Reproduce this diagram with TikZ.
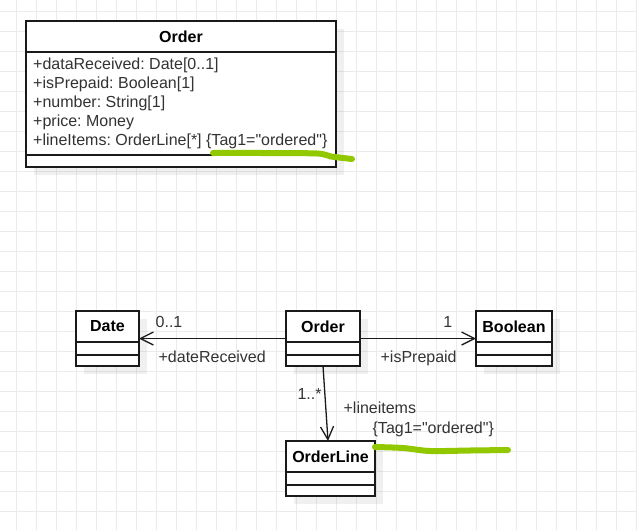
\documentclass[tikz,border=0pt]{standalone}
\usepackage{fontspec}
\setmainfont{Liberation Sans}[Ligatures=TeXOff]
\usepackage{xcolor}
\definecolor{UMLline}{HTML}{1A1A1A}
\definecolor{UMLtext}{HTML}{333333}
\definecolor{UMLgrid}{HTML}{EBEBEB}
\definecolor{UMLmark}{HTML}{92C800}
\usetikzlibrary{arrows.meta, positioning, fit, shadows}
\frenchspacing

\begin{document}
\begin{tikzpicture}[
  x=1pt, y=-1pt,
  gridline/.style={draw=UMLgrid, line width=0.9pt},
  classhead/.style={
    draw=UMLline, line width=1.3pt, fill=white, anchor=north west,
    minimum height=31pt, inner sep=0pt, outer sep=0pt,
    font=\fontsize{16}{19}\selectfont\bfseries,
    drop shadow={shadow xshift=8pt, shadow yshift=-8pt, fill=black, opacity=.06}
  },
  compart/.style={classhead, anchor=north, minimum height=#1},
  classbox/.style={inner sep=0pt, outer sep=0pt},
  attrtext/.style={anchor=base west, inner sep=0pt, text=UMLtext,
    font=\fontsize{16}{19}\selectfont},
  label/.style={attrtext},
  assoc/.style={draw=UMLline, line width=1.3pt,
    -{Straight Barb[length=13pt, width=13pt]}},
  hilite/.style={draw=UMLmark, line width=6pt, line cap=round, line join=round},
]

\useasboundingbox (0,0) rectangle (637,530);

% Background grid
\foreach \gx in {16,36,...,636} \draw[gridline] (\gx,0) -- (\gx,530);
\foreach \gy in {11.5,31.5,...,511.5} \draw[gridline] (0,\gy) -- (637,\gy);

% Class with attributes
\node[classhead, minimum width=310pt] (order-def) at (26,21) {Order};
\node[compart=103pt, minimum width=310pt, below=0pt of order-def] (order-def-attr) {};
\node[compart=12pt, minimum width=310pt, below=0pt of order-def-attr] (order-def-ops) {};
\foreach \attr [count=\i] in {+dataReceived: Date[0..1], +isPrepaid: Boolean[1],
    +number: String[1], +price: Money,
    +lineItems: OrderLine[*] \{Tag1="ordered"\}}
  \node[attrtext] (attr-\i) at (33, 50.8+19*\i) {\attr};

% Highlight
\draw[hilite] plot[smooth] coordinates {(213,153) (262,153) (317,153.5) (331,156.5) (352,159)};

% Class diagram -- Date
\node[classhead, minimum width=63pt] (date) at (76,311) {Date};
\node[compart=13pt, minimum width=63pt, below=0pt of date] (date-attr) {};
\node[compart=11pt, minimum width=63pt, below=0pt of date-attr] (date-ops) {};
\node[classbox, fit=(date)(date-ops)] (date-box) {};

% Order
\node[classhead, minimum width=74pt] (order) at (286,311) {Order};
\node[compart=13pt, minimum width=74pt, below=0pt of order] (order-attr) {};
\node[compart=11pt, minimum width=74pt, below=0pt of order-attr] (order-ops) {};
\node[classbox, fit=(order)(order-ops)] (order-box) {};

% Boolean
\node[classhead, minimum width=76pt] (bool) at (476,311) {Boolean};
\node[compart=13pt, minimum width=76pt, below=0pt of bool] (bool-attr) {};
\node[compart=11pt, minimum width=76pt, below=0pt of bool-attr] (bool-ops) {};
\node[classbox, fit=(bool)(bool-ops)] (bool-box) {};

% OrderLine
\node[classhead, minimum width=89pt] (oline) at (286,441) {OrderLine};
\node[compart=13pt, minimum width=89pt, below=0pt of oline] (oline-attr) {};
\node[compart=11pt, minimum width=89pt, below=0pt of oline-attr] (oline-ops) {};
\node[classbox, fit=(oline)(oline-ops)] (oline-box) {};

% Associations
\draw[assoc] (order-box.west) --
  node[label, pos=.891, yshift=10.8pt] (mult-date) {0..1}
  node[label, pos=.871, yshift=-24pt] (role-date) {+dateReceived}
  (date-box.east);
\draw[assoc] (order-box.east) --
  node[label, anchor=base east, pos=.802, yshift=10.8pt] (mult-bool) {1}
  node[label, pos=.172, yshift=-24pt] (role-bool) {+isPrepaid}
  (bool-box.west);
\draw[assoc] (order-box.south) --
  node[label, anchor=base east, pos=.444, xshift=-3pt] (mult-oline) {1..*}
  node[label, pos=.63, xshift=16.8pt] (role-oline) {+lineitems}
  node[label, pos=.9, xshift=44.5pt] (tag-oline) {\{Tag1="ordered"\}}
  ([xshift=-2.5pt]oline-box.north);

% Highlight
\draw[hilite] plot[smooth] coordinates {(375,447) (403,448) (430,451) (470,450.5) (508,450)};

\end{tikzpicture}
\end{document}
